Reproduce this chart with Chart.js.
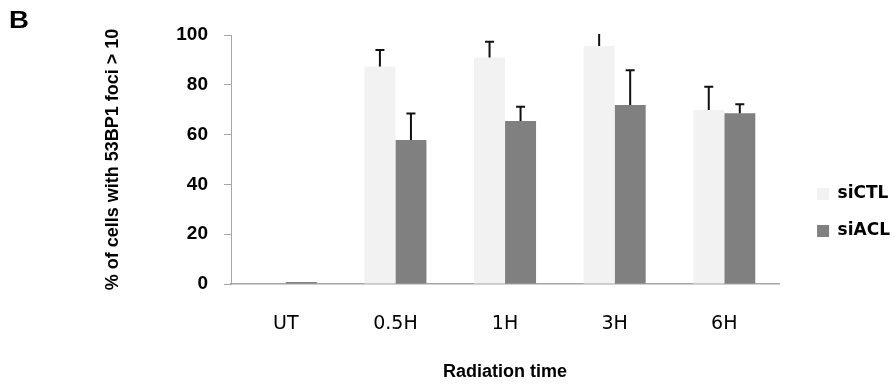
<!DOCTYPE html>
<html>
<head>
<meta charset="utf-8">
<script src="https://cdn.jsdelivr.net/npm/chart.js@4"></script>
<style>
  html, body { margin: 0; padding: 0; background: #fff; }
  #wrap { position: relative; width: 896px; height: 386px; }
  #panel { position: absolute; left: 9px; top: 7px; font: bold 23px "Liberation Sans", Arial, sans-serif; color: #000; transform: scaleX(1.2); transform-origin: left top; }
</style>
</head>
<body>
<div id="wrap">
  <canvas id="chart" width="896" height="386"></canvas>
  <div id="panel">B</div>
</div>
<script>
const categories = ['UT', '0.5H', '1H', '3H', '6H'];
const siCTL = [0.2, 87.3, 91.0, 95.6, 69.9];
const siACL = [0.8, 57.8, 65.5, 71.9, 68.6];
const siCTLErr = [0, 6.7, 6.3, 6, 9.3];
const siACLErr = [0, 10.7, 5.7, 13.9, 3.6];
const yTicks = [0, 20, 40, 60, 80, 100];

const errors = [siCTLErr, siACLErr];

// upward-only error bars with a cap
const errorBars = {
  id: 'errorBars',
  afterDatasetsDraw(chart) {
    const { ctx, chartArea, scales } = chart;
    ctx.save();
    ctx.beginPath();
    ctx.rect(chartArea.left, chartArea.top - 1, chartArea.width, chartArea.height + 1);
    ctx.clip();
    ctx.strokeStyle = '#111';
    ctx.lineWidth = 2;
    chart.data.datasets.forEach((ds, i) => {
      const meta = chart.getDatasetMeta(i);
      meta.data.forEach((bar, j) => {
        const err = errors[i][j];
        if (!err) return;
        const yTop = scales.y.getPixelForValue(ds.data[j] + err);
        ctx.beginPath();
        ctx.moveTo(bar.x, bar.y);
        ctx.lineTo(bar.x, yTop);
        ctx.moveTo(bar.x - 4.5, yTop);
        ctx.lineTo(bar.x + 4.5, yTop);
        ctx.stroke();
      });
    });
    ctx.restore();
  },
};

// nudge the legend a bit away from the plot, like the original
const legendShift = {
  id: 'legendShift',
  afterLayout(chart) {
    chart.legend.left += 18;
    chart.legend.right += 18;
    chart.legend.top += 2;
    chart.legend.bottom += 2;
  },
};

new Chart(document.getElementById('chart'), {
  type: 'bar',
  data: {
    labels: categories,
    datasets: [
      { label: 'siCTL', data: siCTL, backgroundColor: '#f2f2f2' },
      { label: 'siACL', data: siACL, backgroundColor: '#808080' },
    ],
  },
  options: {
    responsive: false,
    animation: false,
    layout: { padding: { left: 102, right: 14, top: 35, bottom: 0 } },
    datasets: { bar: { categoryPercentage: 0.566, barPercentage: 1 } },
    plugins: {
      tooltip: { enabled: false },
      legend: {
        position: 'right',
        labels: {
          boxWidth: 12,
          boxHeight: 12,
          padding: 20,
          color: '#000',
          font: { family: '"DejaVu Sans", sans-serif', weight: 'bold', size: 17 },
        },
      },
    },
    scales: {
      x: {
        afterFit: scale => { scale.height = 386 - 284; },
        grid: { display: false, drawTicks: false },
        border: { color: '#a6a6a6', width: 1.5 },
        ticks: { color: '#000', padding: 29, font: { family: '"DejaVu Sans", sans-serif', size: 19 } },
        title: {
          display: true,
          text: 'Radiation time',
          color: '#000',
          padding: { top: 0, bottom: 3 },
          font: { family: '"Liberation Sans", sans-serif', weight: 'bold', size: 18 },
        },
      },
      y: {
        min: 0,
        max: 100,
        afterBuildTicks: scale => { scale.ticks = yTicks.map(value => ({ value })); },
        afterFit: scale => { scale.width = 231 - 102; },
        grid: { display: true, drawOnChartArea: false, tickLength: 7, color: '#a6a6a6' },
        border: { color: '#a6a6a6', width: 1 },
        ticks: { color: '#000', padding: 16, font: { family: '"Liberation Sans", Arial, sans-serif', weight: 'bold', size: 19 } },
        title: {
          display: true,
          text: '% of cells with 53BP1 foci > 10',
          color: '#000',
          padding: { top: 0, bottom: 0 },
          font: { family: '"Liberation Sans", sans-serif', weight: 'bold', size: 18 },
        },
      },
    },
  },
  plugins: [errorBars, legendShift],
});
</script>
</body>
</html>
